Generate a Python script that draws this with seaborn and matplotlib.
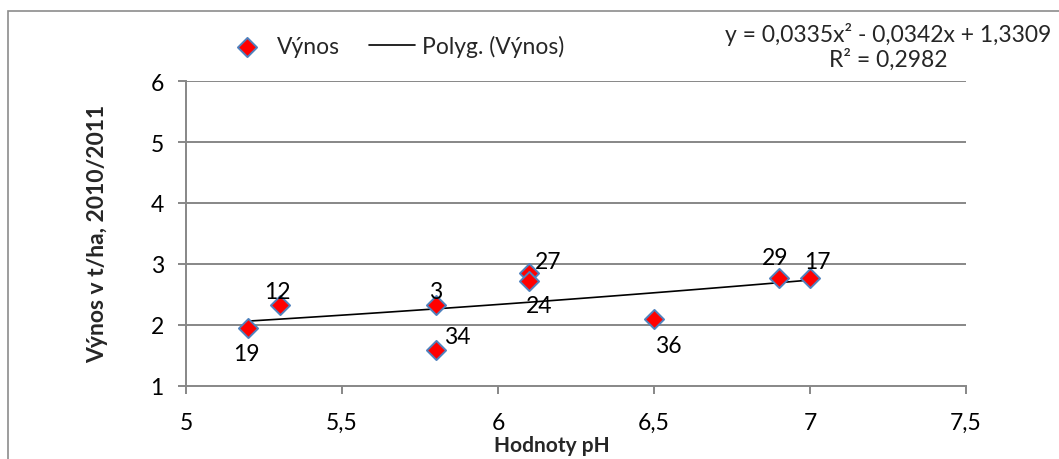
import numpy as np
import pandas as pd
import matplotlib
matplotlib.use("Agg")
import matplotlib.pyplot as plt
from matplotlib.patches import Rectangle
from matplotlib.ticker import FuncFormatter, MultipleLocator
import seaborn as sns

# pH values, yields (t/ha) and plot numbers
ph = [5.2, 5.3, 5.8, 5.8, 6.1, 6.1, 6.5, 6.9, 7.0]
yields = [1.94, 2.33, 2.33, 1.58, 2.85, 2.72, 2.10, 2.76, 2.76]
plot_ids = ["19", "12", "3", "34", "27", "24", "36", "29", "17"]

# second-order polynomial trend (Excel trendline)
coef_a, coef_b, coef_c = 0.0335, -0.0342, 1.3309
r_squared = 0.2982

# label offsets in pixels (dx, dy) for each plot number
label_dx = [-2, -2, 0, 22, 19, 10, 14, -4, 7]
label_dy = [-25, 13, 13, 14, 11, -25, -27, 21, 17]

sns.set_theme(style="white")
plt.rcParams["font.family"] = ["Lato", "DejaVu Sans"]

FS = 16.5

df = pd.DataFrame({"pH": ph, "Výnos": yields})
x_fit = np.linspace(min(ph), max(ph), 60)
fit = pd.DataFrame({"pH": x_fit, "trend": coef_a * x_fit**2 + coef_b * x_fit + coef_c})

fig = plt.figure(figsize=(10.59, 4.60), dpi=100)
ax = fig.add_axes([186 / 1059, 1 - 386.5 / 460, (966 - 186) / 1059, (386.5 - 82.3) / 460])

grid_c = "#878787"
ax.set_xlim(5, 7.5)
ax.set_ylim(1, 6)
ax.xaxis.set_major_locator(MultipleLocator(0.5))
ax.yaxis.set_major_locator(MultipleLocator(1))
for y in range(2, 7):
    ax.axhline(y, color=grid_c, lw=1.4, zorder=0)

sns.lineplot(data=fit, x="pH", y="trend", ax=ax, color="black", lw=1.2,
             label="Polyg. (Výnos)", zorder=2, legend=False)
sns.scatterplot(data=df, x="pH", y="Výnos", ax=ax, marker="D", s=95,
                color="#ff0000", edgecolor="#4f81bd", linewidth=1.4,
                label="Výnos", zorder=3, legend=False)

for xv, yv, lab, dx, dy in zip(ph, yields, plot_ids, label_dx, label_dy):
    ax.annotate(lab, (xv, yv), xytext=(dx, dy), textcoords="offset pixels",
                ha="center", va="center", fontsize=FS, color="black", zorder=4)

comma = FuncFormatter(lambda v, p: f"{v:g}".replace(".", ","))
ax.xaxis.set_major_formatter(comma)
ax.yaxis.set_major_formatter(comma)

for side in ("top", "right"):
    ax.spines[side].set_visible(False)
for side in ("left", "bottom"):
    ax.spines[side].set_color(grid_c)
    ax.spines[side].set_linewidth(1.4)
ax.tick_params(axis="both", which="major", direction="out", length=6, width=1.4,
               color=grid_c, labelsize=FS, labelcolor="black", left=True, bottom=True)
ax.tick_params(axis="x", pad=13)
ax.tick_params(axis="y", pad=10)

ax.set_xlabel("Hodnoty pH", fontsize=15, fontweight="bold")
ax.set_ylabel("Výnos v t/ha, 2010/2011", fontsize=16.5, fontweight="bold")
ax.xaxis.set_label_coords((552 - 186) / 780, (386.5 - 436) / 304.2)
ax.yaxis.set_label_coords((108 - 186) / 780, 0.5)

handles, labels = ax.get_legend_handles_labels()
order = [labels.index("Výnos"), labels.index("Polyg. (Výnos)")]
ax.legend([handles[i] for i in order], [labels[i] for i in order],
          loc="center", bbox_to_anchor=(394 / 1059, 1 - 47 / 460),
          bbox_transform=fig.transFigure, ncol=2, frameon=False, fontsize=FS,
          handlelength=2.0, columnspacing=1.3, handletextpad=0.3,
          borderpad=0, borderaxespad=0)

fig.text(888 / 1059, 1 - 46.5 / 460,
         "y = 0,0335x² - 0,0342x + 1,3309\nR² = 0,2982",
         ha="center", va="center", fontsize=FS, multialignment="center",
         linespacing=1.15)

# outer chart frame
fig.patches.append(Rectangle((8 / 1059, -0.2), 1.2, 1.2 - 12 / 460,
                             transform=fig.transFigure, fill=False,
                             edgecolor="#8c8c8c", lw=1.2, clip_on=False))

fig.savefig("out.png", dpi=100)
